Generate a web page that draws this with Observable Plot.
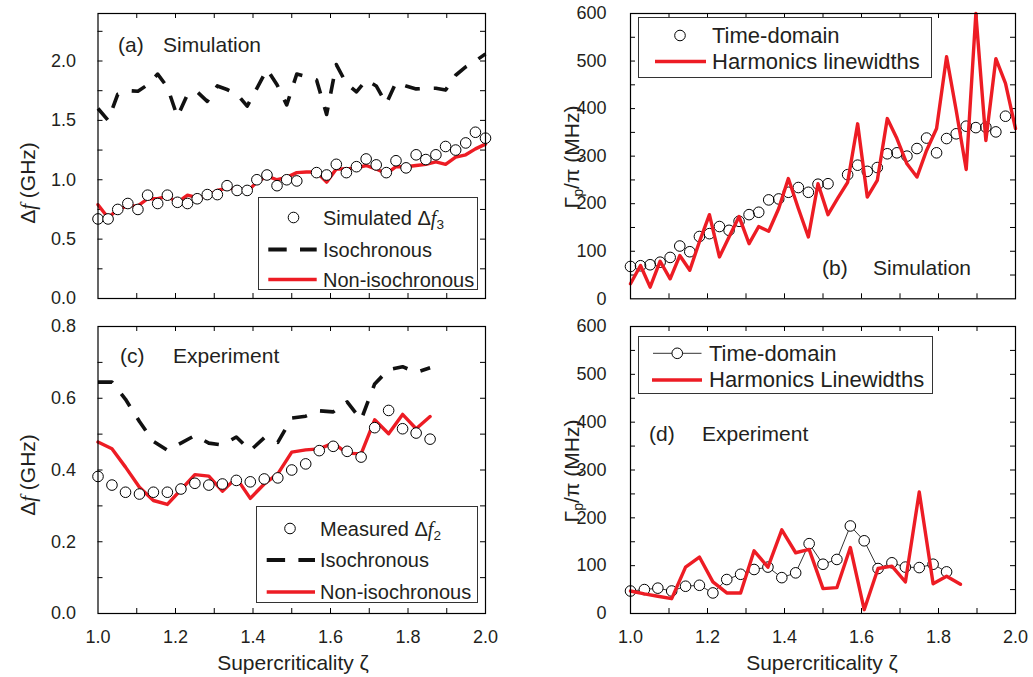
<!DOCTYPE html>
<html>
<head>
<meta charset="utf-8">
<script src="https://cdn.jsdelivr.net/npm/d3@7"></script>
<script src="https://cdn.jsdelivr.net/npm/@observablehq/plot@0.6"></script>
<style>
  html, body { margin: 0; padding: 0; background: #fff; overflow: hidden; }
  #wrap { position: relative; width: 1033px; height: 677px; font-family: "Liberation Sans", Arial, Helvetica, sans-serif; color: #231f20; }
  .lbl { position: absolute; white-space: nowrap; line-height: 1; }
  .lbl i.f, .legend i.f { font-family: "Liberation Serif", "Times New Roman", serif; font-style: italic; }
  .lbl sub, .legend sub { font-size: 0.68em; vertical-align: -0.3em; line-height: 0; }
  .legend { position: absolute; box-sizing: border-box; border: 1px solid #333; background: #fff; }
  .legend .row { position: absolute; white-space: nowrap; line-height: 1; }
</style>
</head>
<body>
<div id="wrap"></div>
<script>
const RED = "#ed1c24";
const INK = "#231f20";
const FONT = '"Liberation Sans", Arial, Helvetica, sans-serif';

// ---- supercriticality grids ----
const zetaSim = [1.000, 1.026, 1.051, 1.077, 1.103, 1.128, 1.154, 1.179, 1.205, 1.231,
                 1.256, 1.282, 1.308, 1.333, 1.359, 1.385, 1.410, 1.436, 1.462, 1.487,
                 1.513, 1.538, 1.564, 1.590, 1.615, 1.641, 1.667, 1.692, 1.718, 1.744,
                 1.769, 1.795, 1.821, 1.846, 1.872, 1.897, 1.923, 1.949, 1.974, 2.000];
const zetaExp = [1.000, 1.036, 1.071, 1.107, 1.143, 1.179, 1.214, 1.250, 1.286, 1.321,
                 1.357, 1.393, 1.429, 1.464, 1.500, 1.536, 1.571, 1.607, 1.643, 1.679,
                 1.714, 1.750, 1.786, 1.821, 1.857];

// ---- (a) simulation, GHz ----
const simDf3 = [0.67, 0.67, 0.75, 0.80, 0.75, 0.87, 0.80, 0.87, 0.81, 0.80,
                0.84, 0.875, 0.875, 0.95, 0.91, 0.91, 1.00, 1.04, 0.95, 1.00,
                0.99, null, 1.06, 1.04, 1.13, 1.06, 1.11, 1.175, 1.125, 1.06,
                1.16, 1.10, 1.21, 1.17, 1.21, 1.28, 1.25, 1.31, 1.40, 1.35];
const simIso = [1.60, 1.50, 1.72, 1.75, 1.745, 1.80, 1.89, 1.78, 1.53, 1.72,
                1.74, 1.66, 1.79, 1.76, 1.72, 1.62, 1.77, 1.93, 1.80, 1.63,
                1.89, 1.87, 1.84, 1.55, 1.97, 1.81, 1.74, 1.84, 1.79, 1.64,
                1.82, 1.79, 1.765, 1.77, 1.77, 1.755, 1.88, 1.95, 2.00, 2.06];
const simNonIso = [0.79, 0.68, 0.75, 0.78, 0.78, 0.84, 0.84, 0.86, 0.81, 0.87,
                   0.85, 0.86, 0.91, 0.93, 0.92, 0.90, 0.98, 1.03, 1.00, 1.02,
                   1.06, 1.065, 1.065, 0.98, 1.09, 1.09, 1.10, 1.12, 1.09, 1.05,
                   1.11, 1.11, 1.12, 1.13, 1.15, 1.13, 1.19, 1.21, 1.26, 1.30];

// ---- (b) simulation, MHz ----
const simTimeDomain = [68, 69.5, 71.6, 77, 87, 111, 99, 131, 137, 152,
                       144, 163, 177, 182, 208, 210, 224, 234, 224, 241,
                       242, null, 261, 281, 268, 276, 305, 307, 300, 316,
                       338, 307, 337, 347, 363, 360, 361, 351, 384, null];
const simHarmonics = [31.6, 70, 24.5, 79, 42, 91, 60, 120, 177, 88,
                      130, 173, 116, 152, 142, 190, 253, 190, 130, 242,
                      177, 211, 245, 368, 214, 249, 379, 337, 284, 256,
                      312, 358, 509, 396, 272, 640, 333, 505, 453, 358];

// ---- (c) experiment, GHz ----
const expDf2 = [0.382, 0.358, 0.338, 0.333, 0.338, 0.338, 0.347, 0.363, 0.358, 0.361,
                0.371, 0.367, 0.375, 0.378, 0.400, 0.417, 0.454, 0.466, 0.452, 0.436,
                0.518, 0.566, 0.515, 0.503, 0.486];
const expIso = [0.645, 0.645, 0.597, 0.535, 0.480, 0.455, 0.475, 0.496, 0.475, 0.470,
                0.492, 0.454, 0.490, 0.477, 0.545, 0.550, 0.565, 0.562, 0.590, 0.540,
                0.640, 0.680, 0.688, 0.672, 0.685];
const expNonIso = [0.478, 0.459, 0.408, 0.352, 0.315, 0.304, 0.345, 0.387, 0.383, 0.341,
                   0.378, 0.321, 0.361, 0.389, 0.450, 0.456, 0.459, 0.475, 0.447, 0.445,
                   0.540, 0.501, 0.555, 0.515, 0.549];

// ---- (d) experiment, MHz ----
const expTimeDomain = [47, 50, 53, 47, 57, 59, 43, 71, 82, 92,
                       97, 75, 85, 146, 103, 113, 183, 152, 94, 106,
                       97, 96, 103, 87, null];
const expHarmonics = [47, 41, 36, 31, 97, 118, 66, 43, 43, 131,
                      97, 175, 127, 134, 52, 54, 138, 8, 94, 99,
                      66, 254, 62, 78, 61];

// ---- ticks ----
const xLabelTicks = [1.0, 1.2, 1.4, 1.6, 1.8, 2.0];
const xMinorTicks = [1.1, 1.2, 1.3, 1.4, 1.5, 1.6, 1.7, 1.8, 1.9];
const yTicksGHzA = [0, 0.5, 1.0, 1.5, 2.0];
const yMinorGHzA = [0.25, 0.5, 0.75, 1.0, 1.25, 1.5, 1.75, 2.0, 2.25];
const yTicksGHzC = [0, 0.2, 0.4, 0.6, 0.8];
const yMinorGHzC = [0.1, 0.2, 0.3, 0.4, 0.5, 0.6, 0.7];
const yTicksMHz = [0, 100, 200, 300, 400, 500, 600];
const yMinorMHz = [50, 100, 150, 200, 250, 300, 350, 400, 450, 500, 550];

function series(xs, ys) {
  return xs.map((x, i) => ({x, y: ys[i]})).filter(d => d.y != null);
}

const W = 1033, H = 677;
function panel(o) {
  const [l, r, t, b] = o.frame;
  const fw = r - l, fh = b - t, tl = 5;
  return Plot.plot({
    width: W, height: H,
    marginLeft: l, marginRight: W - r, marginTop: t, marginBottom: H - b,
    style: {background: "transparent", overflow: "visible", fontFamily: FONT, fontSize: "18px",
            color: INK, position: "absolute", left: "0px", top: "0px"},
    x: {domain: [1, 2], axis: o.showX ? "bottom" : null, ticks: xLabelTicks, tickSize: 0,
        tickPadding: 17, tickFormat: d3.format(".1f"), label: null},
    y: {domain: o.yDomain, ticks: o.yTicks, tickSize: 0, tickPadding: o.yPad,
        tickFormat: o.yFormat, label: null, clamp: true},
    marks: [
      Plot.tickX(xMinorTicks, {x: d => d, insetBottom: fh - tl, stroke: "#000"}),
      Plot.tickX(xMinorTicks, {x: d => d, insetTop: fh - tl, stroke: "#000"}),
      Plot.tickY(o.yMinor, {y: d => d, insetRight: fw - tl, stroke: "#000"}),
      Plot.tickY(o.yMinor, {y: d => d, insetLeft: fw - tl, stroke: "#000"}),
      ...o.marks,
      Plot.frame({stroke: "#000", strokeWidth: 1.2})
    ]
  });
}

const dash = {stroke: "#111", strokeWidth: 3.6, strokeDasharray: "15,14", strokeLinecap: "butt"};
const redLine = {stroke: RED, strokeWidth: 3.4};
const circ = {r: 5.3, stroke: "#000", strokeWidth: 1, fill: "#fff"};

const wrap = document.getElementById("wrap");

// (a)
wrap.appendChild(panel({
  frame: [97.5, 485, 13, 298], showX: false, yPad: 22,
  yDomain: [0, 2.4], yTicks: yTicksGHzA, yMinor: yMinorGHzA, yFormat: d3.format(".1f"),
  marks: [
    Plot.line(series(zetaSim, simIso), {x: "x", y: "y", ...dash}),
    Plot.line(series(zetaSim, simNonIso), {x: "x", y: "y", ...redLine}),
    Plot.dot(series(zetaSim, simDf3), {x: "x", y: "y", ...circ})
  ]
}));
// (b)
wrap.appendChild(panel({
  frame: [630, 1015, 13, 298.3], showX: false, yPad: 24,
  yDomain: [0, 600], yTicks: yTicksMHz, yMinor: yMinorMHz, yFormat: d3.format("d"),
  marks: [
    Plot.dot(series(zetaSim, simTimeDomain), {x: "x", y: "y", ...circ, fill: "none"}),
    Plot.line(series(zetaSim, simHarmonics), {x: "x", y: "y", ...redLine})
  ]
}));
// (c)
wrap.appendChild(panel({
  frame: [97.5, 485, 326, 613], showX: true, yPad: 22,
  yDomain: [0, 0.8], yTicks: yTicksGHzC, yMinor: yMinorGHzC, yFormat: d3.format(".1f"),
  marks: [
    Plot.line(series(zetaExp, expIso), {x: "x", y: "y", ...dash}),
    Plot.line(series(zetaExp, expNonIso), {x: "x", y: "y", ...redLine}),
    Plot.dot(series(zetaExp, expDf2), {x: "x", y: "y", ...circ})
  ]
}));
// (d)
wrap.appendChild(panel({
  frame: [630, 1015, 326, 613], showX: true, yPad: 24,
  yDomain: [0, 600], yTicks: yTicksMHz, yMinor: yMinorMHz, yFormat: d3.format("d"),
  marks: [
    Plot.line(series(zetaExp, expTimeDomain), {x: "x", y: "y", stroke: "#000", strokeWidth: 0.8}),
    Plot.dot(series(zetaExp, expTimeDomain), {x: "x", y: "y", ...circ}),
    Plot.line(series(zetaExp, expHarmonics), {x: "x", y: "y", ...redLine})
  ]
}));

// ---- text overlays ----
function label(html, x, yc, fs, mode) {
  const d = document.createElement("div");
  d.className = "lbl";
  d.innerHTML = html;
  d.style.fontSize = fs + "px";
  if (mode === "rot") {
    d.style.left = x + "px"; d.style.top = yc + "px";
    d.style.transform = "translate(-50%,-50%) rotate(-90deg)";
  } else if (mode === "center") {
    d.style.left = x + "px"; d.style.top = (yc - 0.49 * fs) + "px";
    d.style.transform = "translateX(-50%)";
  } else {
    d.style.left = x + "px"; d.style.top = (yc - 0.49 * fs) + "px";
  }
  wrap.appendChild(d);
}
const dfTitle = 'Δ<i class="f">f</i> (GHz)';
const gTitle = 'Γ<sub>p</sub>/π (MHz)';
label(dfTitle, 28, 183, 21, "rot");
label(dfTitle, 28, 475, 21, "rot");
label(gTitle, 571, 157, 21, "rot");
label(gTitle, 571, 471, 21, "rot");
label("Supercriticality ζ", 293, 662, 21, "center");
label("Supercriticality ζ", 822, 662, 21, "center");

label("(a)", 118, 44, 21); label("Simulation", 163, 44, 21);
label("(c)", 120, 355, 21); label("Experiment", 173, 355, 21);
label("(b)", 822, 267, 21); label("Simulation", 873, 267, 21);
label("(d)", 649, 433, 21); label("Experiment", 702, 433, 21);

// ---- legends ----
function legend(box, fs, textX, rows) {
  const [x, y, w, h] = box;
  const div = document.createElement("div");
  div.className = "legend";
  Object.assign(div.style, {left: x + "px", top: y + "px", width: w + "px", height: h + "px"});
  const svg = d3.create("svg").attr("width", w).attr("height", h)
    .style("position", "absolute").style("left", "-1px").style("top", "-1px").style("overflow", "visible");
  for (const row of rows) {
    const [x1, x2] = row.span;
    if (row.type === "circle") {
      svg.append("circle").attr("cx", (x1 + x2) / 2).attr("cy", row.y).attr("r", 5.3)
        .attr("fill", "#fff").attr("stroke", "#000");
    } else if (row.type === "linecircle") {
      svg.append("line").attr("x1", x1).attr("x2", x2).attr("y1", row.y).attr("y2", row.y)
        .attr("stroke", "#000").attr("stroke-width", 0.8);
      svg.append("circle").attr("cx", (x1 + x2) / 2).attr("cy", row.y).attr("r", 5.3)
        .attr("fill", "#fff").attr("stroke", "#000");
    } else if (row.type === "dash") {
      svg.append("line").attr("x1", x1).attr("x2", x2).attr("y1", row.y).attr("y2", row.y)
        .attr("stroke", "#111").attr("stroke-width", 4).attr("stroke-dasharray", "18.4,13.3");
    } else {
      svg.append("line").attr("x1", x1).attr("x2", x2).attr("y1", row.y).attr("y2", row.y)
        .attr("stroke", RED).attr("stroke-width", 3.4);
    }
    const t = document.createElement("div");
    t.className = "row";
    t.innerHTML = row.text;
    t.style.fontSize = fs + "px";
    t.style.left = (textX - 1) + "px";
    t.style.top = (row.y - 1 - 0.49 * fs) + "px";
    div.appendChild(t);
  }
  div.appendChild(svg.node());
  wrap.appendChild(div);
}

legend([258, 197, 220, 93], 20, 65, [
  {type: "circle", span: [25, 46], y: 20.5, text: 'Simulated Δ<i class="f">f</i><sub>3</sub>'},
  {type: "dash", span: [10.3, 58.7], y: 52.5, text: "Isochronous"},
  {type: "red", span: [10.3, 58.7], y: 82.5, text: "Non-isochronous"}
]);
legend([256, 506, 222, 97], 20, 64, [
  {type: "circle", span: [23, 45], y: 22.5, text: 'Measured Δ<i class="f">f</i><sub>2</sub>'},
  {type: "dash", span: [10.7, 59], y: 54, text: "Isochronous"},
  {type: "red", span: [10.7, 59], y: 86, text: "Non-isochronous"}
]);
legend([638, 17, 294, 61], 22, 74, [
  {type: "circle", span: [31, 53], y: 18.5, text: "Time-domain"},
  {type: "red", span: [17, 68], y: 44.5, text: "Harmonics linewidths"}
]);
legend([638, 336, 295, 58], 22, 71, [
  {type: "linecircle", span: [15, 63.5], y: 17.3, text: "Time-domain"},
  {type: "red", span: [14, 64], y: 44, text: "Harmonics Linewidths"}
]);
</script>
</body>
</html>
